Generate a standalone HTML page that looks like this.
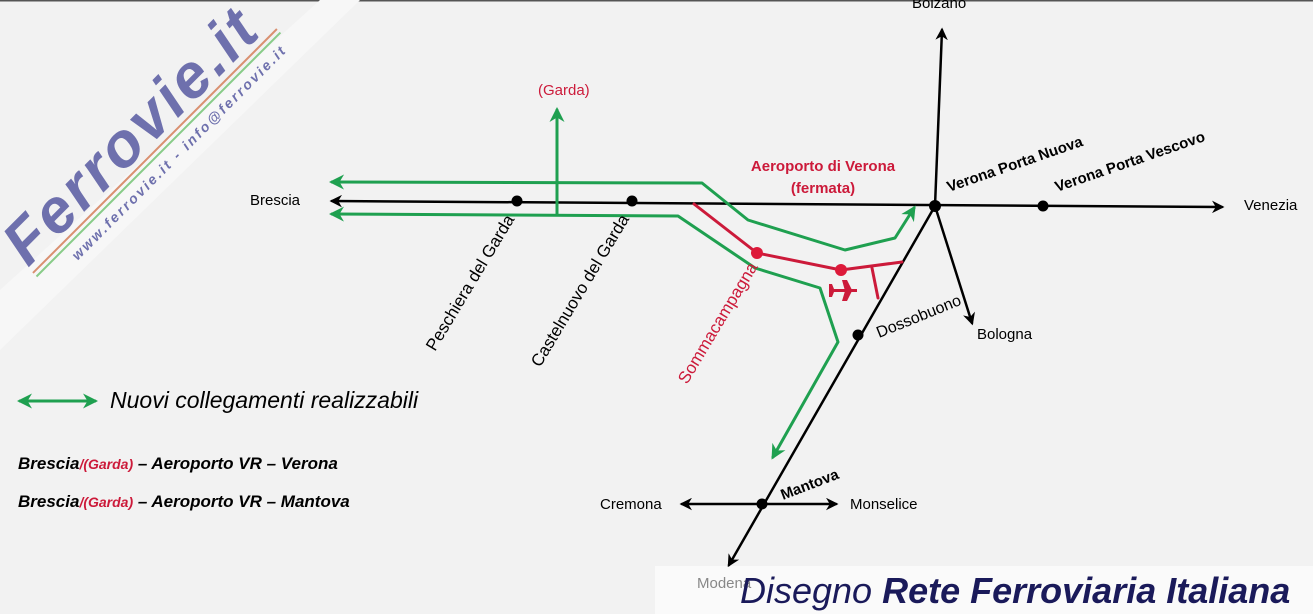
<!DOCTYPE html>
<html><head><meta charset="utf-8"><style>
html,body{margin:0;padding:0;background:#f2f2f2;}
svg{display:block;font-family:"Liberation Sans",sans-serif;}
</style></head><body>
<svg width="1313" height="614" viewBox="0 0 1313 614" xmlns="http://www.w3.org/2000/svg">
<defs>
<marker id="ak" viewBox="0 0 10 10" refX="8" refY="5" markerWidth="5" markerHeight="5" orient="auto-start-reverse"><path d="M0,0 L10,5 L0,10 L3,5z" fill="#000"/></marker>
<marker id="ag" viewBox="0 0 10 10" refX="8" refY="5" markerWidth="5" markerHeight="5" orient="auto-start-reverse"><path d="M0,0 L10,5 L0,10 L3,5z" fill="#1fa050"/></marker>
</defs>
<rect width="1313" height="614" fill="#f2f2f2"/>
<line x1="0" y1="0.5" x2="1313" y2="0.5" stroke="#555" stroke-width="2"/>
<polygon points="0,290 320,0 360,0 0,350" fill="#f7f7f7"/>
<g transform="translate(28,268) rotate(-45)">
<text x="0" y="0" font-size="62" font-weight="bold" font-style="italic" fill="#6e70ad" textLength="330">Ferrovie.it</text>
<line x1="0" y1="7" x2="345" y2="7" stroke="#d99070" stroke-width="2"/>
<line x1="0" y1="12" x2="345" y2="12" stroke="#88cc88" stroke-width="2"/>
<text x="40" y="30" font-size="14" font-weight="bold" font-style="italic" fill="#6e70ad" textLength="295">www.ferrovie.it - info@ferrovie.it</text>
</g>
<rect x="655" y="566" width="658" height="48" fill="#fafafa"/>
<g stroke-linecap="round" stroke-linejoin="round" fill="none">
<line x1="1222" y1="207" x2="332" y2="201" stroke="#000" stroke-width="2.5" marker-start="url(#ak)" marker-end="url(#ak)"/>
<line x1="935" y1="206" x2="942" y2="30" stroke="#000" stroke-width="2.5" marker-end="url(#ak)"/>
<line x1="935" y1="206" x2="972" y2="323" stroke="#000" stroke-width="2.5" marker-end="url(#ak)"/>
<line x1="935" y1="206" x2="729" y2="565" stroke="#000" stroke-width="2.5" marker-end="url(#ak)"/>
<line x1="682" y1="504" x2="836" y2="504" stroke="#000" stroke-width="2.5" marker-start="url(#ak)" marker-end="url(#ak)"/>
<polyline points="332,182 702,183 748,220 845,250 895,238 914,208" stroke="#1fa050" stroke-width="3" marker-start="url(#ag)" marker-end="url(#ag)"/>
<polyline points="332,214 678,216 755,268 820,288 838,342 773,457" stroke="#1fa050" stroke-width="3" marker-start="url(#ag)" marker-end="url(#ag)"/>
<line x1="557" y1="214" x2="557" y2="110" stroke="#1fa050" stroke-width="3" marker-end="url(#ag)"/>
<line x1="20" y1="401" x2="95" y2="401" stroke="#1fa050" stroke-width="3" marker-start="url(#ag)" marker-end="url(#ag)"/>
<polyline points="694,204 757,253 841,270 902,262" stroke="#cc1a3a" stroke-width="3"/>
<line x1="872" y1="268" x2="878" y2="298" stroke="#cc1a3a" stroke-width="3"/>
</g>
<g fill="#000"><circle cx="517" cy="201" r="5.5"/><circle cx="632" cy="201" r="5.5"/><circle cx="935" cy="206" r="6"/><circle cx="1043" cy="206" r="5.5"/><circle cx="858" cy="335" r="5.5"/><circle cx="762" cy="504" r="5.5"/></g>
<g fill="#dd1a3a"><circle cx="757" cy="253" r="6"/><circle cx="841" cy="270" r="6"/></g>
<path d="M829,289 L857,289 L857,292 L829,292z M842,280 L847,280 L852,290 L852,291 L847,301 L842,301 L845,291z M829,284 L832,284 L834,289 L834,292 L832,297 L829,297z" fill="#cc1a3a"/>
<g font-size="15">
<text x="250" y="205">Brescia</text>
<text x="1244" y="210">Venezia</text>
<text x="912" y="8">Bolzano</text>
<text x="977" y="339">Bologna</text>
<text x="600" y="509">Cremona</text>
<text x="850" y="509">Monselice</text>
<text x="697" y="588" fill="#888">Modena</text>
<text x="538" y="95" fill="#cc1a3a">(Garda)</text>
<text x="823" y="171" fill="#cc1a3a" font-weight="bold" text-anchor="middle">Aeroporto di Verona</text>
<text x="823" y="193" fill="#cc1a3a" font-weight="bold" text-anchor="middle">(fermata)</text>
<text transform="translate(949,192) rotate(-19)" font-weight="bold">Verona Porta Nuova</text>
<text transform="translate(1057,192) rotate(-19)" font-weight="bold">Verona Porta Vescovo</text>
<text transform="translate(879,338) rotate(-22)" font-size="16">Dossobuono</text>
<text transform="translate(783,500) rotate(-21)" font-weight="bold">Mantova</text>
<text transform="translate(435,352) rotate(-59)" font-size="17">Peschiera del Garda</text>
<text transform="translate(540,368) rotate(-59)" font-size="17">Castelnuovo del Garda</text>
<text transform="translate(687,385) rotate(-59)" font-size="17" fill="#cc1a3a">Sommacampagna</text>
</g>
<text x="110" y="408" font-size="23" font-style="italic">Nuovi collegamenti realizzabili</text>
<text x="18" y="469" font-size="17" font-weight="bold" font-style="italic">Brescia<tspan fill="#cc1a3a" font-size="14">/(Garda)</tspan> – Aeroporto VR – Verona</text>
<text x="18" y="507" font-size="17" font-weight="bold" font-style="italic">Brescia<tspan fill="#cc1a3a" font-size="14">/(Garda)</tspan> – Aeroporto VR – Mantova</text>
<text x="740" y="603" font-size="36" font-style="italic" fill="#1a1a5a">Disegno <tspan font-weight="bold">Rete Ferroviaria Italiana</tspan></text>
</svg>
</body></html>
